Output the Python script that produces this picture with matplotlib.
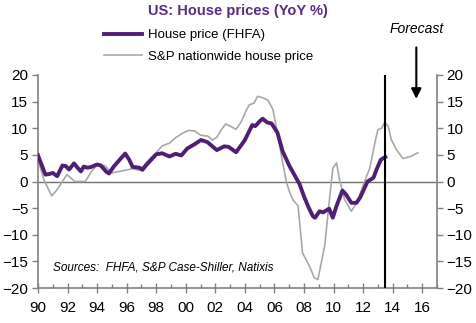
import numpy as np
import matplotlib
matplotlib.use("Agg")
import matplotlib.pyplot as plt
from matplotlib.ticker import MultipleLocator, FuncFormatter

plt.rcParams['font.family'] = ['Liberation Sans', 'DejaVu Sans']

#---- DATA ----
fhfa_t = [1990.0, 1990.5, 1990.75, 1991.0, 1991.3, 1991.65, 1991.88, 1992.1, 1992.44, 1992.67,
          1992.9, 1993.1, 1993.34, 1993.57, 1994.0, 1994.25, 1994.6, 1994.8, 1995.15, 1995.9,
          1996.17, 1996.4, 1996.85, 1997.07, 1997.3, 1998.0, 1998.4, 1998.9, 1999.3, 1999.7,
          2000.1, 2000.6, 2001.03, 2001.46, 2002.1, 2002.6, 2002.9, 2003.4, 2003.8, 2004.0,
          2004.3, 2004.5, 2004.7, 2005.0, 2005.2, 2005.5, 2005.8, 2006.2, 2006.55, 2007.0,
          2007.7, 2008.0, 2008.3, 2008.6, 2008.75, 2009.05, 2009.3, 2009.7, 2009.95, 2010.2,
          2010.6, 2010.86, 2011.2, 2011.55, 2011.8, 2012.05, 2012.3, 2012.7, 2012.9, 2013.2, 2013.5]
fhfa_v = [4.9, 1.3, 1.4, 1.6, 1.0, 3.0, 2.9, 2.25, 3.4, 2.6,
          1.9, 2.8, 2.6, 2.7, 3.2, 3.0, 1.9, 1.5, 2.9, 5.25,
          4.1, 2.75, 2.6, 2.2, 3.0, 5.1, 5.3, 4.7, 5.2, 4.9,
          6.2, 7.0, 7.8, 7.4, 5.9, 6.6, 6.5, 5.5, 7.0, 7.8,
          9.5, 10.6, 10.4, 11.3, 11.8, 11.1, 10.9, 9.2, 5.7, 3.0,
          -0.5, -2.8, -4.8, -6.5, -6.8, -5.6, -5.8, -5.1, -6.8, -4.6,
          -1.7, -2.5, -4.0, -4.0, -3.0, -1.5, 0.0, 0.7, 2.2, 4.1, 4.6]

sp_t = [1990.0, 1990.4, 1990.93, 1991.3, 1991.95, 1992.5, 1993.2, 1993.6, 1994.0, 1994.5,
        1995.0, 1995.7, 1996.4, 1996.9, 1997.4, 1998.0, 1998.4, 1998.9, 1999.3, 1999.8,
        2000.2, 2000.6, 2001.0, 2001.5, 2001.8, 2002.1, 2002.4, 2002.7, 2003.0, 2003.4,
        2003.75, 2004.1, 2004.3, 2004.6, 2004.87, 2005.2, 2005.55, 2005.9, 2006.2, 2006.56,
        2006.8, 2007.0, 2007.24, 2007.6, 2007.9, 2008.37, 2008.7, 2008.94, 2009.4, 2009.7,
        2009.95, 2010.2, 2010.4, 2010.75, 2011.2, 2011.6, 2012.1, 2012.45, 2012.8, 2013.0,
        2013.25, 2013.46, 2013.7, 2013.9, 2014.25, 2014.7, 2015.26, 2015.7]
sp_v = [4.1, 0.3, -2.7, -1.5, 1.3, 0.0, 0.0, 1.8, 3.1, 3.0,
        1.6, 2.0, 2.4, 2.1, 3.8, 5.4, 6.7, 7.2, 8.2, 9.1,
        9.6, 9.5, 8.7, 8.5, 7.8, 8.3, 9.7, 10.8, 10.4, 9.8,
        11.2, 13.4, 14.4, 14.7, 16.0, 15.7, 15.3, 13.5, 9.1, 3.5,
        0.0, -1.8, -3.4, -4.6, -13.4, -15.9, -18.1, -18.4, -12.1, -4.0,
        2.5, 3.5, 0.4, -3.4, -5.6, -3.8, 0.0, 2.5, 7.3, 9.75,
        10.0, 11.1, 10.4, 7.9, 6.0, 4.3, 4.75, 5.4]

forecast_start = 2013.5
arrow_x = 2015.6

purple = '#4f1f74'
grey_line = '#a8a8a8'
axis_col = '#808080'

fig = plt.figure(figsize=(4.76, 3.23), dpi=100)
ax = fig.add_axes([38/476, 1-288/323, (437-38)/476, (288-75)/323])

ax.axhline(0, color='#707070', lw=1.0, zorder=1)
ax.plot(sp_t, sp_v, color=grey_line, lw=1.2, label='S&P nationwide house price', zorder=2)
ax.plot(fhfa_t, fhfa_v, color=purple, lw=2.8, label='House price (FHFA)', zorder=3)
ax.axvline(forecast_start, color='black', lw=1.5, zorder=4)

ax.set_xlim(1990, 2017)
ax.set_ylim(-20, 20)
ax.xaxis.set_major_locator(MultipleLocator(2))
ax.xaxis.set_minor_locator(MultipleLocator(1))
ax.xaxis.set_major_formatter(FuncFormatter(lambda x, p: f"{int(round(x)) % 100:02d}"))
ax.yaxis.set_major_locator(MultipleLocator(5))

ax.spines['top'].set_visible(False)
for s in ['left', 'right', 'bottom']:
    ax.spines[s].set_color(axis_col)
    ax.spines[s].set_linewidth(1.2)

ax.tick_params(axis='x', which='major', direction='inout', length=7, color=axis_col, width=1, labelsize=11, pad=6)
ax.tick_params(axis='x', which='minor', direction='in', length=3, color=axis_col, width=1)
ax.tick_params(axis='y', which='major', direction='out', length=4, color=axis_col, width=1,
               labelsize=11, left=True, right=True, labelleft=True, labelright=True, pad=3)

ax.text(1991.0, -16.2, 'Sources:  FHFA, S&P Case-Shiller, Natixis', style='italic', fontsize=8.5, va='center')

#---- forecast label and arrow ----
fig.text(417/476, 1-29/323, 'Forecast', style='italic', fontsize=10, ha='center', va='center')
ax.annotate('', xy=(arrow_x, 15.0), xycoords='data',
            xytext=(arrow_x, 25.7), textcoords='data',
            arrowprops=dict(arrowstyle='-|>', color='black', lw=1.5, mutation_scale=15),
            annotation_clip=False)

fig.text(238/476, 1-11/323, 'US: House prices (YoY %)', color='#5a2d82', fontsize=10.5,
         fontweight='bold', ha='center', va='center')

handles, labels = ax.get_legend_handles_labels()
fig.legend(handles[::-1], labels[::-1], loc='upper left', bbox_to_anchor=(104/476, 1-29/323),
           frameon=False, fontsize=9.5, handlelength=2.9, handletextpad=0.4, labelspacing=0.7,
           borderaxespad=0, borderpad=0)

fig.savefig('out.png', dpi=100)
